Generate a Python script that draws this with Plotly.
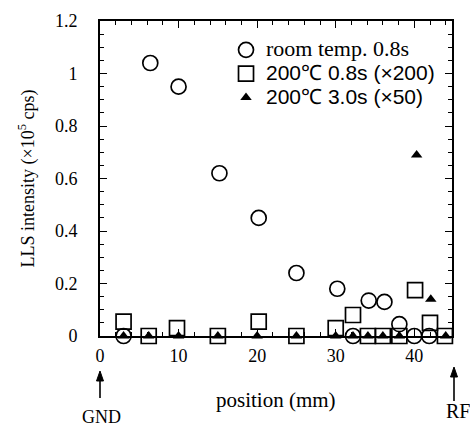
import plotly.graph_objects as go

# Data
pos_rt = [3, 6.4, 10, 15.2, 20.2, 25, 30.2, 32.2, 34.2, 36.2, 38.1, 40, 41.9]
val_rt = [0, 1.04, 0.95, 0.62, 0.45, 0.24, 0.18, 0.0, 0.135, 0.13, 0.045, 0.0, 0.0]

pos_08 = [3, 6.2, 9.8, 15, 20.2, 25, 30, 32.2, 34.1, 36, 38.1, 40.1, 42, 43.9]
val_08 = [0.055, 0, 0.03, 0, 0.055, 0, 0.03, 0.08, 0, 0, 0, 0.175, 0.05, 0]

pos_30 = [3, 6.2, 10, 15, 20, 25, 30, 32.2, 34.1, 36, 38.1, 40.3, 42.1, 44]
val_30 = [0, 0, 0, 0, 0, 0, 0, 0, 0, 0, 0, 0.69, 0.14, 0]

names = ["room temp. 0.8s", "200℃ 0.8s (×200)", "200℃ 3.0s (×50)"]
ytick_vals = [0, 0.2, 0.4, 0.6, 0.8, 1.0, 1.2]
ytick_text = ["0", "0.2", "0.4", "0.6", "0.8", "1", "1.2"]
xtick_vals = [0, 10, 20, 30, 40]

SERIF = "Liberation Serif"
SANS = "Liberation Sans"

def span(txt, fam, size):
    return '<span style="font-family:%s;font-size:%dpx">%s</span>' % (fam, size, txt)

fig = go.Figure()
fig.add_trace(go.Scatter(x=pos_rt, y=val_rt, mode="markers",
                         name=span(names[0], SERIF, 22),
                         marker=dict(symbol="circle-open", size=15, color="black", line=dict(width=1.7)),
                         cliponaxis=False))
fig.add_trace(go.Scatter(x=pos_08, y=val_08, mode="markers", name=span(names[1], SANS, 21),
                         marker=dict(symbol="square-open", size=15, color="black", line=dict(width=1.7)),
                         cliponaxis=False))
fig.add_trace(go.Scatter(x=pos_30, y=val_30, mode="markers", name=span(names[2], SANS, 21),
                         marker=dict(symbol="triangle-up", size=10, color="black"),
                         cliponaxis=False))

axis_common = dict(showline=True, linecolor="black", linewidth=1.8, mirror="ticks",
                   ticks="inside", tickcolor="black", showgrid=False, zeroline=False,
                   tickfont=dict(family=SERIF, size=18, color="black"))

fig.update_xaxes(range=[0, 44.8], tickvals=xtick_vals, ticklen=7, tickwidth=1.4,
                 ticklabelstandoff=2,
                 minor=dict(dtick=2, tick0=0, ticks="inside", ticklen=4, tickcolor="black", tickwidth=1.2),
                 **axis_common)
fig.update_yaxes(range=[0, 1.2], tickvals=ytick_vals, ticktext=ytick_text, ticklen=7, tickwidth=1.4,
                 ticklabelstandoff=17,
                 minor=dict(dtick=0.05, tick0=0, ticks="inside", ticklen=4, tickcolor="black", tickwidth=1.2),
                 **axis_common)

plot_h = 427 - 21 - 91
def py(pix):
    return (427 - 91 - pix) / plot_h

def px(pix):
    return (pix - 100) / (470 - 100 - 18)

fig.update_layout(
    width=470, height=427,
    margin=dict(l=100, r=18, t=21, b=91),
    paper_bgcolor="white", plot_bgcolor="white",
    font=dict(family=SERIF, size=16, color="black"),
    showlegend=True,
    legend=dict(x=0.358, y=0.962, xanchor="left", yanchor="top",
                bgcolor="rgba(0,0,0,0)", font=dict(family=SANS, size=16, color="black"),
                tracegroupgap=0, itemsizing="trace"),
)

fig.add_annotation(text="LLS intensity (×10<sup>5</sup> cps)", x=px(27), y=0.5, xref="paper", yref="paper",
                   xanchor="center", yanchor="middle",
                   textangle=-90, showarrow=False, font=dict(family=SERIF, size=18))
fig.add_annotation(text="position (mm)", x=px(276), y=py(400), xref="paper", yref="paper", showarrow=False,
                   xanchor="center", yanchor="middle", font=dict(family=SERIF, size=21))
fig.add_annotation(text="GND", x=px(101), y=py(417), xref="paper", yref="paper", showarrow=False,
                   xanchor="center", yanchor="middle", font=dict(family=SERIF, size=18))
fig.add_annotation(text="RF", x=px(458), y=py(411), xref="paper", yref="paper", showarrow=False,
                   xanchor="center", yanchor="middle", font=dict(family=SERIF, size=20))

# electrode arrows (shaft + head) drawn as shapes
def arrow(xp, top, bottom):
    fig.add_shape(type="line", xref="paper", yref="paper",
                  x0=px(xp), x1=px(xp), y0=py(bottom), y1=py(top + 6),
                  line=dict(color="black", width=1.6))
    fig.add_shape(type="path", xref="paper", yref="paper",
                  path="M %f %f L %f %f L %f %f Z" % (px(xp), py(top), px(xp - 3.5), py(top + 10),
                                                      px(xp + 3.5), py(top + 10)),
                  fillcolor="black", line=dict(color="black", width=1))

arrow(100, 371, 398)
arrow(454, 367, 401)

fig.write_html("out.html", post_script="document.body.style.margin='0';",
               config={"displayModeBar": False})
